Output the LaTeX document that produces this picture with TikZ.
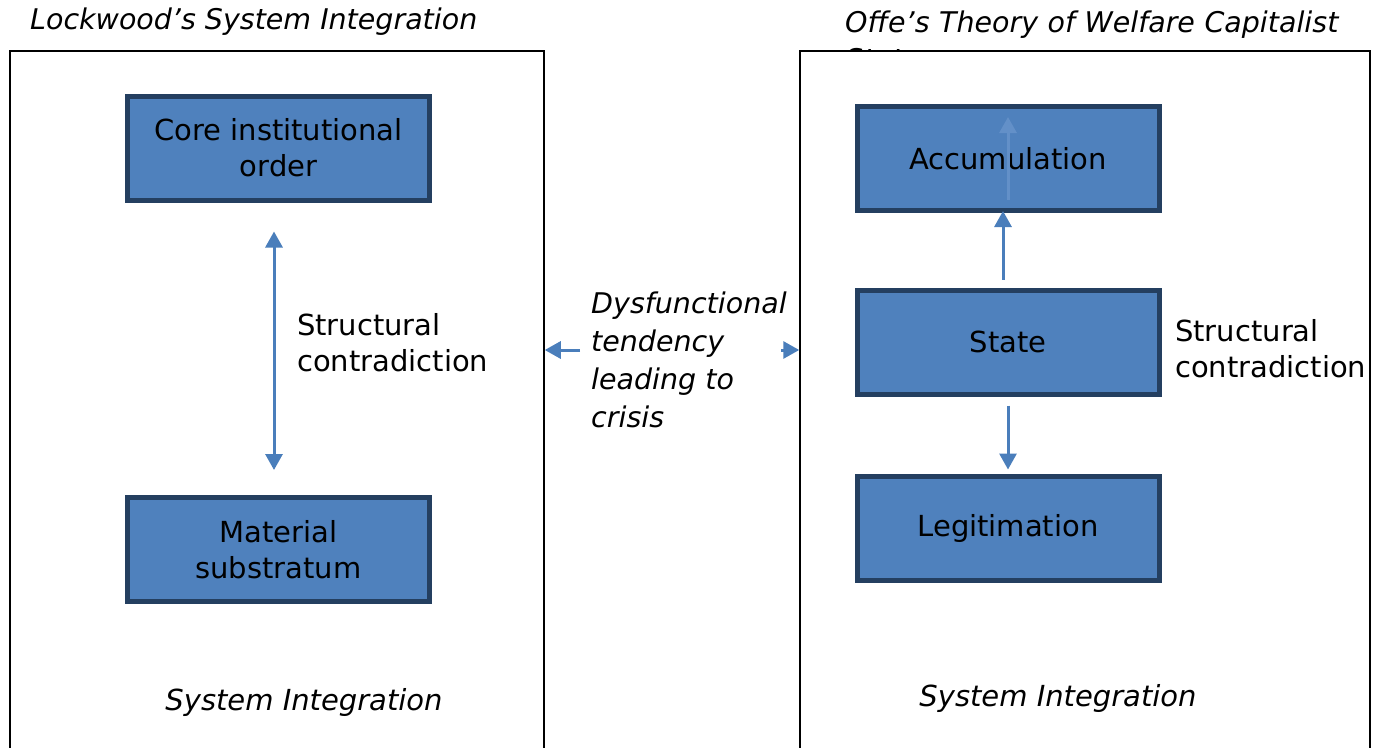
\documentclass[tikz,border=0pt]{standalone}
\usepackage{fontspec}
\setmainfont{DejaVu Sans}
\usetikzlibrary{arrows.meta}
\definecolor{boxfill}{HTML}{4F81BD}
\definecolor{boxedge}{HTML}{243F60}
\definecolor{arrowblue}{HTML}{4A7EBB}
\definecolor{faintblue}{HTML}{6390C8}
\tikzset{
  framebox/.style={draw=black, fill=white, line width=1.5pt, minimum width=534pt, minimum height=708pt, inner sep=0pt},
  blk/.style={draw=boxedge, fill=boxfill, line width=5pt, minimum width=302pt, minimum height=104pt, inner sep=0pt, align=center, font=\fontsize{29}{36}\selectfont, text=black},
  plain/.style={inner sep=0pt, align=left, font=\fontsize{29}{36}\selectfont},
  heading/.style={inner sep=0pt, align=left, font=\fontsize{28.5}{36.5}\selectfont\itshape},
  midtext/.style={inner sep=0pt, align=left, font=\fontsize{28.5}{38}\selectfont\itshape},
  foot/.style={inner sep=0pt, font=\fontsize{29}{36}\selectfont\itshape},
  tip/.style={-{Triangle[length=16pt,width=17pt]}},
  arr/.style={draw=arrowblue, line width=3pt, tip},
  dblarr/.style={draw=arrowblue, line width=3pt, {Triangle[length=16pt,width=17pt]}-{Triangle[length=16pt,width=17pt]}},
  faintarr/.style={draw=faintblue, line width=3pt, tip}
}
\begin{document}
\begin{tikzpicture}[x=1pt,y=-1pt]
\useasboundingbox (0,0) rectangle (1376,747);
\begin{scope}
\clip (0,0) rectangle (1376,747);
% headings (the right one runs onto a second line hidden by its frame)
\node[heading, anchor=west] (lhead) at (30,22) {Lockwood’s System Integration};
\node[heading, anchor=north west, text width=525pt] (rhead) at (845,11) {Offe’s Theory of Welfare Capitalist State};
% the two frames
\node[framebox] (lf) at (277,405) {};
\node[framebox, minimum width=570pt] (rf) at (1085,405) {};
% left model
\node[blk] (core) at (278.5,148) {Core institutional\\order};
\node[blk] (mat) at (278.5,549.5) {Material\\substratum};
\draw[dblarr, shorten <=29pt, shorten >=25pt] ([xshift=-4.5pt]core.south) -- ([xshift=-4.5pt]mat.north);
\node[plain, anchor=west] (lsc) at (297,343) {Structural\\contradiction};
\node[foot] (lfoot) at (304,702) {System Integration};
% right model
\node[blk] (acc) at (1008,158.5) {Accumulation};
\node[blk] (state) at (1008,342) {State};
\node[blk] (leg) at (1008,528) {Legitimation};
\draw[faintarr] ([yshift=13pt]acc.south) -- ([yshift=-13pt]acc.north);
\draw[arr, shorten <=8pt, shorten >=-2pt] ([xshift=-5pt]state.north) -- ([xshift=-5pt]acc.south);
\draw[arr, shorten <=9pt, shorten >=4pt] (state.south) -- (leg.north);
\node[plain, anchor=west] (rsc) at (1175,349) {Structural\\contradiction};
\node[foot] (rfoot) at (1058,698) {System Integration};
% link between the two models
\node[midtext, anchor=west] (dys) at (591,360) {Dysfunctional\\tendency\\leading to\\crisis};
\coordinate (la) at (580,350);
\coordinate (ra) at (781,350);
\draw[arr] (la) -- (la -| lf.east);
\draw[arr] (ra) -- (ra -| rf.west);
\end{scope}
\end{tikzpicture}
\end{document}
